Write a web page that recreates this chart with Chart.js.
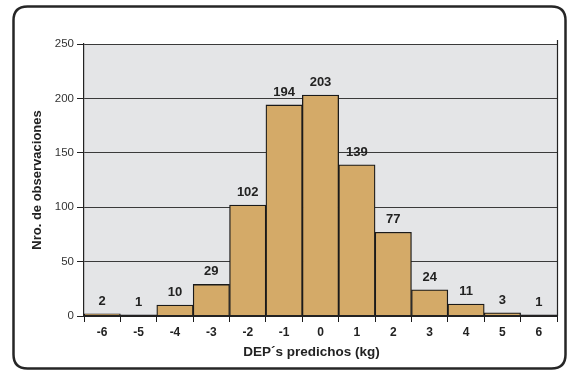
<!DOCTYPE html>
<html>
<head>
<meta charset="utf-8">
<script src="https://cdn.jsdelivr.net/npm/chart.js@4/dist/chart.umd.min.js"></script>
<style>
  html, body { margin: 0; padding: 0; background: #ffffff; }
  #wrap { width: 567px; height: 371px; position: relative; }
</style>
</head>
<body>
<div id="wrap"><canvas id="c" width="567" height="371"></canvas></div>
<script>
// Distribution of predicted EPDs (kg)
const categories = ['-6', '-5', '-4', '-3', '-2', '-1', '0', '1', '2', '3', '4', '5', '6'];
const counts = [2, 1, 10, 29, 102, 194, 203, 139, 77, 24, 11, 3, 1];
const yTicks = [0, 50, 100, 150, 200, 250];
const xTitle = 'DEP´s predichos (kg)';

const FONT = '"Liberation Sans", Arial, Helvetica, sans-serif';

// Rounded frame, grey plot background and x-axis title
const framePlugin = {
  id: 'frame',
  beforeDraw(chart) {
    const ctx = chart.ctx;
    const a = chart.chartArea;
    ctx.save();
    ctx.fillStyle = '#ffffff';
    ctx.fillRect(0, 0, chart.width, chart.height);
    ctx.fillStyle = '#e4e5e7';
    ctx.fillRect(a.left, a.top, a.right - a.left, a.bottom - a.top);
    // outer rounded border
    const x0 = 13.5, y0 = 6.5, x1 = 565.5, y1 = 368.5, r = 14;
    ctx.beginPath();
    ctx.moveTo(x0 + r, y0);
    ctx.lineTo(x1 - r, y0);
    ctx.quadraticCurveTo(x1, y0, x1, y0 + r);
    ctx.lineTo(x1, y1 - r);
    ctx.quadraticCurveTo(x1, y1, x1 - r, y1);
    ctx.lineTo(x0 + r, y1);
    ctx.quadraticCurveTo(x0, y1, x0, y1 - r);
    ctx.lineTo(x0, y0 + r);
    ctx.quadraticCurveTo(x0, y0, x0 + r, y0);
    ctx.closePath();
    ctx.lineWidth = 2.5;
    ctx.strokeStyle = '#262626';
    ctx.stroke();
    ctx.restore();
  },
  afterDraw(chart) {
    const ctx = chart.ctx;
    const a = chart.chartArea;
    ctx.save();
    // right edge of the plot area
    ctx.strokeStyle = '#222';
    ctx.lineWidth = 1.2;
    ctx.beginPath();
    ctx.moveTo(a.right + 0.5, a.top - 4);
    ctx.lineTo(a.right + 0.5, a.bottom);
    ctx.stroke();
    // baseline
    ctx.lineWidth = 2;
    ctx.beginPath();
    ctx.moveTo(a.left, a.bottom);
    ctx.lineTo(a.right + 1, a.bottom);
    ctx.stroke();
    // x-axis title, set slightly left of the plot centre
    ctx.font = 'bold 13.5px ' + FONT;
    ctx.fillStyle = '#222';
    ctx.textAlign = 'center';
    ctx.textBaseline = 'middle';
    ctx.fillText(xTitle, (a.left + a.right) / 2 - 9, 352);
    ctx.restore();
  }
};

// Value labels above each bar
const valueLabels = {
  id: 'valueLabels',
  afterDatasetsDraw(chart) {
    const ctx = chart.ctx;
    const meta = chart.getDatasetMeta(0);
    ctx.save();
    ctx.font = 'bold 13px ' + FONT;
    ctx.fillStyle = '#222';
    ctx.textAlign = 'center';
    ctx.textBaseline = 'alphabetic';
    meta.data.forEach((bar, i) => {
      ctx.fillText(String(counts[i]), bar.x, bar.y - 9);
    });
    ctx.restore();
  }
};

new Chart(document.getElementById('c'), {
  type: 'bar',
  data: {
    labels: categories,
    datasets: [{
      data: counts,
      backgroundColor: '#d4aa68',
      borderColor: '#1a1a1a',
      borderWidth: 1.3,
      categoryPercentage: 1,
      barPercentage: 1
    }]
  },
  options: {
    responsive: false,
    animation: false,
    devicePixelRatio: 1,
    layout: { padding: { left: 30, top: 44, right: 10, bottom: 10 } },
    plugins: {
      legend: { display: false },
      tooltip: { enabled: false }
    },
    scales: {
      x: {
        offset: true,
        afterFit(scale) { scale.height = 45; },
        grid: {
          offset: true,
          drawOnChartArea: false,
          drawTicks: true,
          tickLength: 6,
          color: '#1a1a1a',
          lineWidth: 1
        },
        border: { display: false },
        ticks: {
          color: '#222',
          font: { family: FONT, size: 12, weight: 'bold' },
          padding: 3
        },
        title: { display: false }
      },
      y: {
        min: 0,
        max: 250,
        afterFit(scale) { scale.width = 54; },
        afterBuildTicks(scale) { scale.ticks = yTicks.map(v => ({ value: v })); },
        grid: {
          color: '#3a3a3a',
          lineWidth: 1,
          drawTicks: true,
          tickLength: 7,
          tickColor: '#222'
        },
        border: { display: true, color: '#222', width: 1.2 },
        ticks: {
          color: '#333',
          font: { family: FONT, size: 11.5 },
          padding: 3
        },
        title: {
          display: true,
          text: 'Nro. de observaciones',
          color: '#222',
          font: { family: FONT, size: 13, weight: 'bold' },
          padding: 0
        }
      }
    }
  },
  plugins: [framePlugin, valueLabels]
});
</script>
</body>
</html>
